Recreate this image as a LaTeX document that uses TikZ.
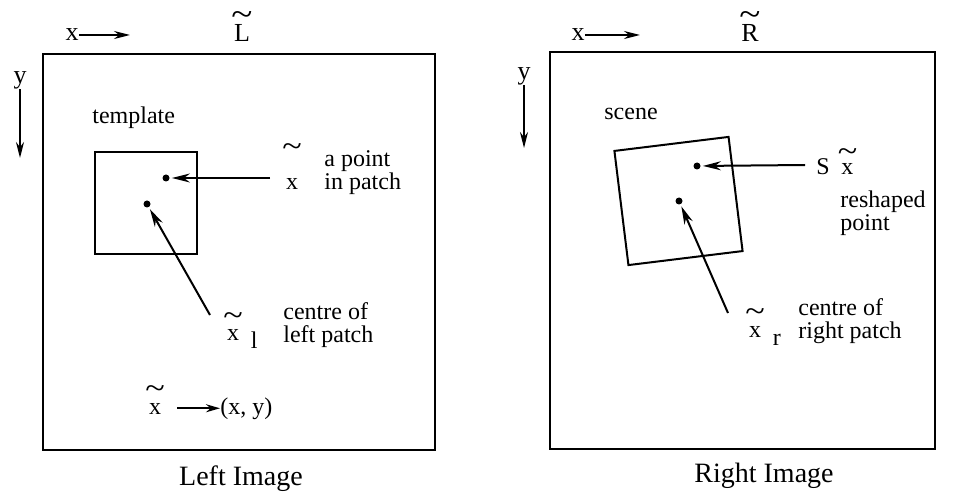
\documentclass[tikz,border=0pt]{standalone}
\usepackage{fontspec}
\usepackage{graphicx}
\setmainfont{Liberation Serif}
\usetikzlibrary{positioning,arrows.meta}
\newcommand{\tld}[2]{%
  \leavevmode\vbox{\offinterlineskip\halign{\hfil##\hfil\cr
    \scalebox{1.5}[1.3]{\char"7E}\cr\noalign{\kern#1}#2\cr}}%
}
\begin{document}
\begin{tikzpicture}[x=0.5pt,y=-0.5pt,
    every node/.style={font=\fontsize{12pt}{11.5pt}\selectfont,inner sep=0pt},
    lbl/.style={anchor=base west,align=left},
    axlbl/.style={font=\fontsize{13pt}{13pt}\selectfont},
    caption/.style={anchor=base,font=\fontsize{14pt}{14pt}\selectfont},
    frame/.style={draw,line width=1.1pt},
    patch/.style={draw,line width=1pt},
    dot/.style={circle,fill,inner sep=0pt,minimum size=3.5pt},
    pointer/.style={-{Stealth[length=9pt,width=4.5pt]},line width=1pt,shorten >=1pt},
    axis/.style={-{Stealth[length=8pt,width=4pt]},line width=0.9pt},
  ]
  \useasboundingbox (0,0) rectangle (953,497);
  % left image
  \node[frame,minimum width=196pt,minimum height=198pt] (lframe) at (239,252) {};
  \node[axlbl] (lx) at (72,35) {x};
  \coordinate (lxend) at (130,35);
  \draw[axis] (lx) -- (lxend);
  \node[axlbl,anchor=base] (ltitle) at (242,42) {\tld{-0.5pt}{L}};
  \node[axlbl] (ly) at (20,80) {y};
  \coordinate (lyend) at (20,158);
  \draw[axis] (ly) -- (lyend);
  \node[lbl] (ltempl) at (92,124) {template};
  \node[patch,minimum size=51pt] (lpatch) at (146,203.5) {};
  \node[dot] (lpt) at (166,178) {};
  \node[dot] (lctr) at (147,204) {};
  \coordinate (lpttail) at (270,178);
  \draw[pointer] (lpttail) -- (lpt);
  \node[anchor=base] (lptx) at (292,190) {\tld{11pt}{x}};
  \node[lbl] (lpttext) at (324,190) {a point\\in patch};
  \coordinate (lctrtail) at (210,315);
  \draw[pointer] (lctrtail) -- (lctr);
  \node[lbl] (lctrx) at (223,341) {\tld{2pt}{x}\hspace{4pt}\raisebox{-4pt}{l}};
  \node[lbl] (lctrtext) at (283,343) {centre of\\left patch};
  \node[anchor=base] (lmap) at (155,414) {\tld{2pt}{x}};
  \node[lbl] (lxy) at (220,414) {(x, y)};
  \draw[-{Stealth[length=7pt,width=4pt]},line width=0.9pt] ([xshift=6pt]lmap.east |- lxy.west) -- (lxy.west);
  \node[caption] (lcap) at (241,485) {Left Image};
  % right image
  \node[frame,minimum width=192.5pt,minimum height=198.5pt] (rframe) at (742.5,250.5) {};
  \node[axlbl] (rx) at (578,35) {x};
  \coordinate (rxend) at (640,35);
  \draw[axis] (rx) -- (rxend);
  \node[axlbl,anchor=base] (rtitle) at (750,42) {\tld{-0.5pt}{R}};
  \node[axlbl] (ry) at (524,76) {y};
  \coordinate (ryend) at (524,148);
  \draw[axis] (ry) -- (ryend);
  \node[lbl] (rscene) at (604,120) {scene};
  \node[patch,minimum size=57.5pt,rotate=7] (rpatch) at (678.5,201) {};
  \node[dot] (rpt) at (697,166) {};
  \node[dot] (rctr) at (679,201) {};
  \coordinate (rpttail) at (805,165);
  \draw[pointer] (rpttail) -- (rpt);
  \node[lbl] (rptx) at (816,175) {S\hspace{4pt}\tld{1pt}{x}};
  \node[lbl] (rpttext) at (840,231) {reshaped\\point};
  \coordinate (rctrtail) at (728,313);
  \draw[pointer] (rctrtail) -- (rctr);
  \node[lbl] (rctrx) at (745,337) {\tld{2pt}{x}\hspace{4pt}\raisebox{-4pt}{r}};
  \node[lbl] (rctrtext) at (798,338) {centre of\\right patch};
  \node[caption] (rcap) at (764,482) {Right Image};
\end{tikzpicture}
\end{document}
